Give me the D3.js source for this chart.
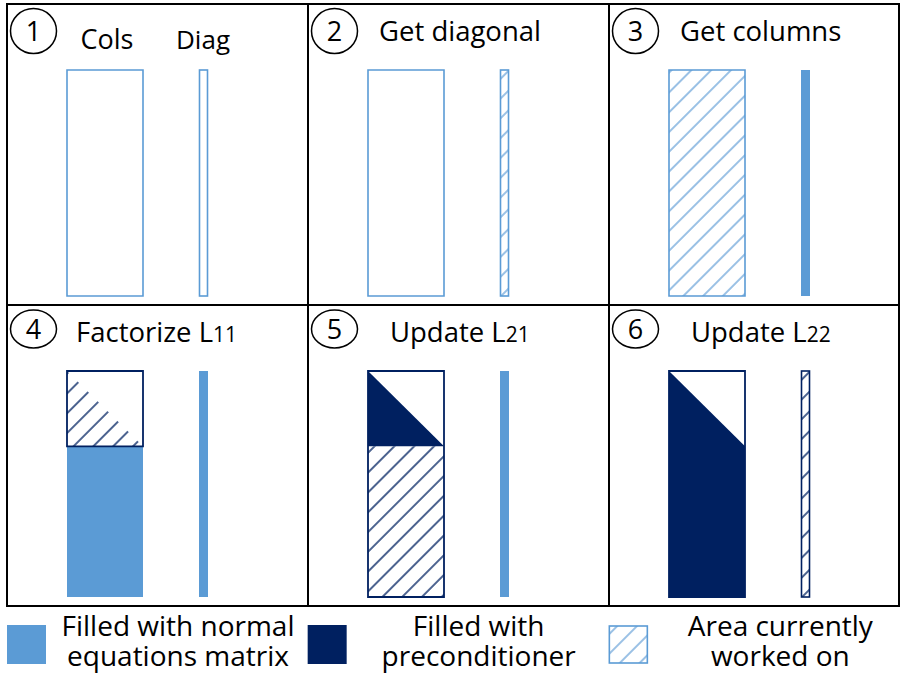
<!DOCTYPE html>
<html>
<head>
<meta charset="utf-8">
<script src="https://cdn.jsdelivr.net/npm/d3@7"></script>
<style>
  body { margin: 0; background: #fff; }
  svg { display: block; }
  text { font-family: "Open Sans", "Noto Sans", sans-serif; fill: #000; }
</style>
</head>
<body>
<div id="chart"></div>
<script>
// Steps of the blocked Cholesky preconditioner build
const steps = [1, 2, 3, 4, 5, 6];
const titles = ["", "Get diagonal", "Get columns", "Factorize L|11", "Update L|21", "Update L|22"];
const colsState = ["empty", "empty", "hatchLight", "factor", "update21", "update22"];
const diagState = ["empty", "hatchLight", "filled", "filled", "filled", "hatchDark"];
const legendLabels = [
    ["Filled with normal", "equations matrix"],
    ["Filled with", "preconditioner"],
    ["Area currently", "worked on"]
];
const legendKinds = ["filled", "precond", "hatchLight"];

const LIGHT = "#5b9bd5";
const NAVY = "#002060";

const width = 901, height = 682;

const svg = d3.select("#chart")
    .append("svg")
    .attr("width", width)
    .attr("height", height);

// Hatch patterns
const defs = svg.append("defs");
[["hatchLight", "#6fa6da"], ["hatchDark", NAVY]].forEach(([id, c]) => {
    defs.append("pattern")
        .attr("id", id)
        .attr("patternUnits", "userSpaceOnUse")
        .attr("width", 14)
        .attr("height", 14)
        .attr("patternTransform", "rotate(45)")
        .append("line")
        .attr("x1", 7).attr("y1", 0)
        .attr("x2", 7).attr("y2", 14)
        .attr("stroke", c)
        .attr("stroke-width", 1.4);
});

// Panel grid
const col = d3.scaleLinear().domain([0, 3]).range([7, 910]);
const row = d3.scaleLinear().domain([0, 2]).range([4, 606]);
const right = 899;

// Matrix block scales inside a panel (one block wide, three blocks tall)
const mx = d3.scaleLinear().domain([0, 1]).range([60, 136]);
const my = d3.scaleLinear().domain([0, 3]).range([66, 292]);
const dx = d3.scaleLinear().domain([0, 1]).range([192, 201]);

const panels = svg.selectAll(".panel")
    .data(steps)
    .join("g")
    .attr("class", "panel")
    .attr("transform", (d, i) => `translate(${col(i % 3)},${row(Math.floor(i / 3))})`);

const poly = pts => "M" + pts.map(p => [mx(p[0]), my(p[1])].join(",")).join("L") + "Z";

panels.each(function (d, i) {
    const g = d3.select(this);
    const top = i < 3;
    const s = colsState[i];

    // step number circle
    g.append("ellipse")
        .attr("cx", 26.5).attr("cy", top ? 27 : 24)
        .attr("rx", 23).attr("ry", top ? 22.5 : 19)
        .attr("fill", "none").attr("stroke", "#000").attr("stroke-width", 1.5);
    g.append("text")
        .attr("x", 26.5).attr("y", top ? 37 : 34)
        .attr("text-anchor", "middle")
        .attr("font-size", 27)
        .text(d);

    // title
    if (i === 0) {
        g.append("text").attr("x", 100).attr("y", 45).attr("text-anchor", "middle")
            .attr("font-size", 27).text("Cols");
        g.append("text").attr("x", 196).attr("y", 45).attr("text-anchor", "middle")
            .attr("font-size", 26).text("Diag");
    } else {
        const [main, sub] = titles[i].split("|");
        const t = g.append("text")
            .attr("x", top ? 71 : (i === 3 ? 69 : 82))
            .attr("y", 37)
            .attr("font-size", 27.5);
        t.append("tspan").text(main);
        t.append("tspan").attr("font-size", 21).text(sub);
    }

    // column block
    if (s === "empty" || s === "hatchLight") {
        g.append("path").attr("d", poly([[0, 0], [1, 0], [1, 3], [0, 3]]))
            .attr("fill", s === "empty" ? "#fff" : "url(#hatchLight)")
            .attr("stroke", LIGHT).attr("stroke-width", 1.6);
    } else if (s === "factor") {
        g.append("path").attr("d", poly([[0, 1], [1, 1], [1, 3], [0, 3]])).attr("fill", LIGHT);
        g.append("path").attr("d", poly([[0, 0], [0, 1], [1, 1]])).attr("fill", "url(#hatchDark)");
        g.append("path").attr("d", poly([[0, 0], [1, 0], [1, 1], [0, 1]]))
            .attr("fill", "none").attr("stroke", NAVY).attr("stroke-width", 1.8);
    } else if (s === "update21") {
        g.append("path").attr("d", poly([[0, 1], [1, 1], [1, 3], [0, 3]])).attr("fill", "url(#hatchDark)");
        g.append("path").attr("d", poly([[0, 0], [0, 1], [1, 1]])).attr("fill", NAVY);
        g.append("path").attr("d", poly([[0, 0], [1, 0], [1, 3], [0, 3]]))
            .attr("fill", "none").attr("stroke", NAVY).attr("stroke-width", 1.8);
    } else if (s === "update22") {
        g.append("path").attr("d", poly([[0, 0], [1, 1], [1, 3], [0, 3]])).attr("fill", NAVY);
        g.append("path").attr("d", poly([[0, 0], [1, 0], [1, 3], [0, 3]]))
            .attr("fill", "none").attr("stroke", NAVY).attr("stroke-width", 1.8);
    }

    // diagonal vector
    const ds = diagState[i];
    const dr = g.append("rect")
        .attr("x", dx(0)).attr("y", my(0))
        .attr("width", dx(1) - dx(0)).attr("height", my(3) - my(0));
    if (ds === "filled") {
        dr.attr("fill", LIGHT);
    } else {
        const c = ds === "hatchDark" ? NAVY : LIGHT;
        dr.attr("x", dx(0) + 0.5).attr("width", dx(1) - dx(0) - 1)
            .attr("fill", ds === "empty" ? "#fff" : `url(#${ds})`)
            .attr("stroke", c).attr("stroke-width", 1.6);
    }
});

// grid lines
const grid = svg.append("g").attr("stroke", "#000").attr("stroke-width", 2);
grid.append("rect")
    .attr("x", col(0)).attr("y", row(0))
    .attr("width", right - col(0)).attr("height", row(2) - row(0))
    .attr("fill", "none");
[1, 2].forEach(c => grid.append("line")
    .attr("x1", col(c)).attr("x2", col(c)).attr("y1", row(0)).attr("y2", row(2)));
grid.append("line").attr("x1", col(0)).attr("x2", right).attr("y1", row(1)).attr("y2", row(1));

// legend
const legend = svg.append("g").attr("class", "legend");
const lx = d3.scaleLinear().domain([0, 3]).range([7, 909]);
legendKinds.forEach((k, i) => {
    const g = legend.append("g").attr("transform", `translate(${lx(i)},625)`);
    if (k === "hatchLight") {
        g.append("rect").attr("x", 1).attr("y", 1).attr("width", 38).attr("height", 37)
            .attr("fill", "url(#hatchLight)").attr("stroke", LIGHT).attr("stroke-width", 1.6);
    } else {
        g.append("rect").attr("width", 39).attr("height", 39)
            .attr("fill", k === "filled" ? LIGHT : NAVY);
    }
    legendLabels[i].forEach((t, j) => {
        g.append("text")
            .attr("x", 171 + (i === 2 ? 1 : 0))
            .attr("y", 11 + j * 29.5)
            .attr("text-anchor", "middle")
            .attr("font-size", 28)
            .text(t);
    });
});
</script>
</body>
</html>
